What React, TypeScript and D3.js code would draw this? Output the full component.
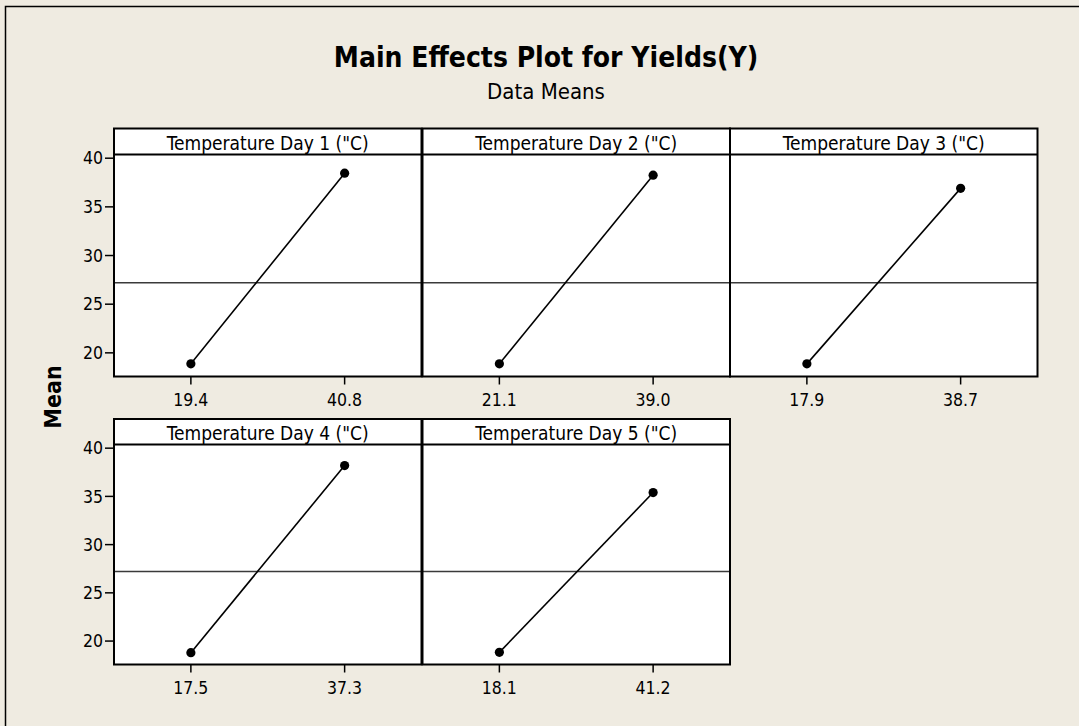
import React from "react";
import * as d3 from "d3";

const factors = [
  'Temperature Day 1 ("C)',
  'Temperature Day 2 ("C)',
  'Temperature Day 3 ("C)',
  'Temperature Day 4 ("C)',
  'Temperature Day 5 ("C)',
];
const lowLevels = ["19.4", "21.1", "17.9", "17.5", "18.1"];
const highLevels = ["40.8", "39.0", "38.7", "37.3", "41.2"];
const lowMeans = [18.87, 18.87, 18.87, 18.8, 18.83];
const highMeans = [38.46, 38.26, 36.9, 38.2, 35.4];
const grandMean = 27.2;
const yTicks = [20, 25, 30, 35, 40];
const yDomain: [number, number] = [17.57, 40.38];

const W = 1079;
const H = 726;
const BG = "#EFEBE1";
const FONT = "'DejaVu Sans Condensed', 'DejaVu Sans', sans-serif";

const colX = [114, 422.5, 730];
const panelW = 307.5;
const stripTop = [128.5, 419];
const plotTop = [154.5, 444.5];
const plotBottom = [376.5, 664.5];

function Panel({ i }: { i: number }) {
  const row = Math.floor(i / 3);
  const col = i % 3;
  const x0 = colX[col];
  const x1 = x0 + panelW;
  const xs = d3
    .scalePoint<string>()
    .domain([lowLevels[i], highLevels[i]])
    .range([x0, x1])
    .padding(0.5);
  const ys = d3.scaleLinear().domain(yDomain).range([plotBottom[row], plotTop[row]]);
  const pts: [string, number][] = [
    [lowLevels[i], lowMeans[i]],
    [highLevels[i], highMeans[i]],
  ];
  const line = d3
    .line<[string, number]>()
    .x((d) => xs(d[0]) as number)
    .y((d) => ys(d[1]));
  return (
    <g>
      <rect
        x={x0}
        y={stripTop[row]}
        width={panelW}
        height={plotBottom[row] - stripTop[row]}
        fill="#fff"
      />
      <line
        x1={x0}
        x2={x1}
        y1={ys(grandMean)}
        y2={ys(grandMean)}
        stroke="#3a3a3a"
        strokeWidth={1.5}
      />
      <path d={line(pts) || ""} fill="none" stroke="#000" strokeWidth={1.6} />
      {pts.map((p, k) => (
        <circle key={k} cx={xs(p[0]) as number} cy={ys(p[1])} r={4.6} fill="#000" />
      ))}
      <rect
        x={x0}
        y={stripTop[row]}
        width={panelW}
        height={plotBottom[row] - stripTop[row]}
        fill="none"
        stroke="#000"
        strokeWidth={2}
      />
      <line x1={x0} x2={x1} y1={plotTop[row]} y2={plotTop[row]} stroke="#000" strokeWidth={2} />
      <text
        x={(x0 + x1) / 2}
        y={plotTop[row] - 5}
        textAnchor="middle"
        fontSize={19}
        fontFamily={FONT}
        fill="#000"
      >
        {factors[i]}
      </text>
      {xs.domain().map((lv) => (
        <g key={lv}>
          <line
            x1={xs(lv) as number}
            x2={xs(lv) as number}
            y1={plotBottom[row]}
            y2={plotBottom[row] + 8}
            stroke="#000"
            strokeWidth={1.5}
          />
          <text
            x={xs(lv) as number}
            y={plotBottom[row] + 29.5}
            textAnchor="middle"
            fontSize={17.5}
            fontFamily={FONT}
            fill="#000"
          >
            {lv}
          </text>
        </g>
      ))}
      {col === 0 &&
        yTicks.map((t) => (
          <g key={t}>
            <line x1={x0 - 9} x2={x0} y1={ys(t)} y2={ys(t)} stroke="#000" strokeWidth={1.5} />
            <text
              x={x0 - 11}
              y={ys(t)}
              dy="0.36em"
              textAnchor="end"
              fontSize={17.5}
              fontFamily={FONT}
              fill="#000"
            >
              {t}
            </text>
          </g>
        ))}
    </g>
  );
}

export default function App() {
  return (
    <svg
      width={W}
      height={H}
      style={{ position: "absolute", left: 0, top: 0, display: "block" }}
    >
      <rect x={0} y={0} width={W} height={H} fill={BG} />
      <rect x={5.5} y={6.5} width={W + 20} height={H + 20} fill={BG} stroke="#000" strokeWidth={1.5} />
      <text
        x={546}
        y={67}
        textAnchor="middle"
        fontSize={28}
        fontWeight="bold"
        fontFamily={FONT}
        fill="#000"
      >
        Main Effects Plot for Yields(Y)
      </text>
      <text x={546} y={99} textAnchor="middle" fontSize={22} fontFamily={FONT} fill="#000">
        Data Means
      </text>
      <text
        transform="translate(61,397) rotate(-90)"
        textAnchor="middle"
        fontSize={23}
        fontWeight="bold"
        fontFamily={FONT}
        fill="#000"
      >
        Mean
      </text>
      {factors.map((_, i) => (
        <Panel key={i} i={i} />
      ))}
    </svg>
  );
}
